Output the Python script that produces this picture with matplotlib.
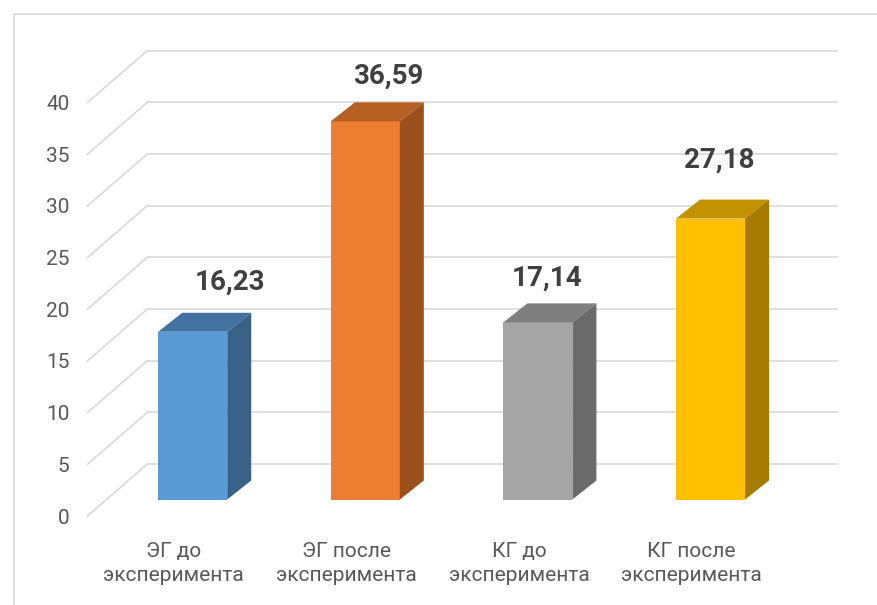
import matplotlib.pyplot as plt
import matplotlib.transforms as mtransforms
from matplotlib.patches import Polygon, Rectangle

categories = ['ЭГ до\nэксперимента', 'ЭГ после\nэксперимента',
              'КГ до\nэксперимента', 'КГ после\nэксперимента']
values = [16.23, 36.59, 17.14, 27.18]
value_labels = ['16,23', '36,59', '17,14', '27,18']
yticks = [0, 5, 10, 15, 20, 25, 30, 35, 40]

front_colors = ['#5b9bd5', '#ed7d31', '#a5a5a5', '#ffc000']
top_colors = ['#4472a0', '#b65f22', '#7f7f7f', '#c29200']
side_colors = ['#3a6288', '#9b4f1c', '#6b6b6b', '#a57c00']

plt.rcParams['font.family'] = ['Roboto', 'DejaVu Sans']

W, H = 877, 605
fig = plt.figure(figsize=(W / 100, H / 100), dpi=100)
fig.patch.set_facecolor('white')

# axes = the plane of the bars' front faces
ax = fig.add_axes([106.4 / W, 105.5 / H, 690.4 / W, 413.4 / H])
ax.set_xlim(-0.5, 3.5)
ax.set_ylim(0, 40)
ax.axis('off')

grid_c = '#d9d9d9'
bar_w = 0.4
bar_depth = (24, 19)      # pixels, x right / y up
wall_back = (41, 35.5)
wall_front = (-19, -16.5)


def px_to_data(dx, dy):
    inv = ax.transData.inverted()
    x0, y0 = inv.transform((0, 0))
    x1, y1 = inv.transform((dx, dy))
    return x1 - x0, y1 - y0


# chart frame
fig.add_artist(Rectangle((14 / W, -0.1), 1.2, 1 - 14 / H + 0.1, transform=fig.transFigure,
                         fill=False, edgecolor=grid_c, lw=1.2))

# back wall gridlines
back_tr = ax.transData + mtransforms.ScaledTranslation(wall_back[0] / 100, wall_back[1] / 100,
                                                       fig.dpi_scale_trans)
ax.hlines(yticks, -0.5, 3.5, colors=grid_c, lw=1.2, transform=back_tr, zorder=1, clip_on=False)

# side wall lines
bx, by = px_to_data(*wall_back)
fx, fy = px_to_data(*wall_front)
for t in yticks:
    ax.plot([-0.5 + fx, -0.5 + bx], [t + fy, t + by], color=grid_c, lw=1.2,
            zorder=1, clip_on=False)
    ax.annotate(str(t), xy=(-0.5, t), xytext=(wall_front[0] - 18, wall_front[1] - 2),
                textcoords='offset pixels', ha='right', va='center',
                fontsize=15, color='#595959')

# bars
idx = list(range(len(values)))
ax.bar(idx, values, width=bar_w, color=front_colors, zorder=3, clip_on=False)
ddx, ddy = px_to_data(*bar_depth)
for i, v in enumerate(values):
    l, r = i - bar_w / 2, i + bar_w / 2
    top = Polygon([(l, v), (r, v), (r + ddx, v + ddy), (l + ddx, v + ddy)],
                  closed=True, facecolor=top_colors[i], edgecolor='none', zorder=3, clip_on=False)
    side = Polygon([(r, 0), (r + ddx, ddy), (r + ddx, v + ddy), (r, v)],
                   closed=True, facecolor=side_colors[i], edgecolor='none', zorder=3, clip_on=False)
    ax.add_patch(top)
    ax.add_patch(side)

# value labels
label_shift = [(37, 42), (23.5, 38), (9.5, 37), (8.5, 51)]
for i, v in enumerate(values):
    ax.annotate(value_labels[i], xy=(i, v), xytext=label_shift[i],
                textcoords='offset pixels', ha='center', va='baseline',
                fontsize=20, fontweight='bold', color='#404040', zorder=5)

# category labels on the front edge of the floor
for i, c in enumerate(categories):
    ax.annotate(c, xy=(i, 0), xytext=(wall_front[0], wall_front[1] - 26),
                textcoords='offset pixels', ha='center', va='top',
                fontsize=15, color='#595959', linespacing=1.35)

fig.savefig('out.png', dpi=100)
